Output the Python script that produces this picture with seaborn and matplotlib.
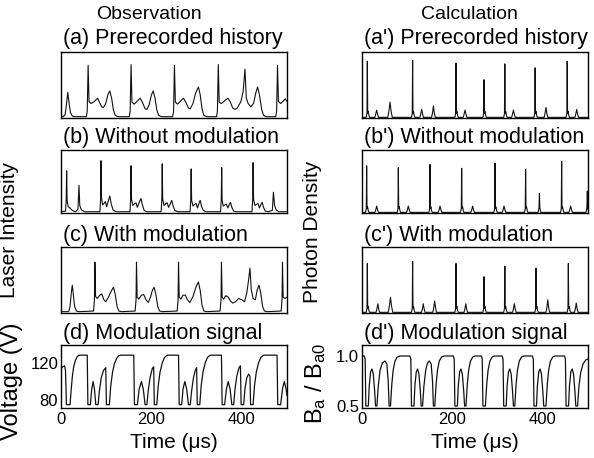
import matplotlib
matplotlib.use("Agg")
import matplotlib.pyplot as plt
import pandas as pd
import seaborn as sns

# ---------------- data (time in microseconds) -------------
# (a) observation: prerecorded history (fraction of panel height)
obs_hist = [(0,0.03),(5,0.02),(9,0.05),(12,0.2),(15,0.39),(18,0.22),(21,0.08),(25,0.03),(30,0.02),
            (56,0.02),(58,0.1),(60,0.80),(62,0.25),(66,0.22),(72,0.24),(78,0.28),(81,0.30),(85,0.24),
            (90,0.17),(94,0.16),(99,0.22),(104,0.36),(108,0.41),(112,0.3),(116,0.12),(120,0.04),(126,0.02),
            (151,0.02),(153,0.1),(155,0.81),(157,0.24),(162,0.21),(168,0.25),(175,0.30),(180,0.24),
            (186,0.14),(190,0.13),(195,0.2),(200,0.35),(204,0.41),(208,0.3),(212,0.12),(216,0.04),(222,0.02),
            (247,0.02),(249,0.1),(251,0.80),(253,0.24),(258,0.21),(265,0.26),(271,0.30),(276,0.24),
            (282,0.15),(286,0.14),(292,0.22),(298,0.38),(304,0.47),(308,0.35),(312,0.14),(316,0.04),(322,0.02),
            (344,0.02),(346,0.1),(348,0.81),(350,0.24),(355,0.22),(362,0.26),(369,0.30),(374,0.25),
            (380,0.15),(385,0.13),(390,0.15),(398,0.25),(403,0.4),(407,0.74),(410,0.3),(414,0.22),
            (420,0.17),(426,0.22),(431,0.38),(435,0.47),(439,0.35),(444,0.13),(448,0.04),(454,0.02),
            (475,0.02),(477,0.1),(479,0.80),(481,0.25),(486,0.22),(492,0.26),(496,0.29),(500,0.25)]

# (b) observation without modulation
obs_free = [(0,0.02),(10,0.03),(11.5,0.2),(12.5,0.67),(13.5,0.2),(16,0.1),(20,0.08),(25,0.04),(32,0.02),
            (37.5,0.06),(39.8,0.44),(41.5,0.12),(45,0.05),(52,0.02),
            (86,0.02),(87.5,0.2),(88.5,0.83),(89.5,0.25),(92,0.13),(96,0.16),(98,0.18),(101,0.1),(105,0.2),
            (108,0.27),(111,0.15),(115,0.05),(122,0.02),
            (152.5,0.02),(154,0.2),(155,0.75),(156,0.22),(159,0.12),(163,0.15),(166,0.16),(169,0.09),
            (173,0.17),(177,0.23),(180,0.13),(184,0.04),(190,0.02),
            (221.5,0.02),(223,0.2),(224,0.78),(225,0.22),(228,0.12),(232,0.15),(235,0.16),(238,0.09),
            (242,0.15),(245,0.2),(248,0.11),(252,0.04),(258,0.02),
            (285.5,0.02),(287,0.2),(288,0.70),(289,0.2),(292,0.11),(296,0.14),(299,0.15),(302,0.08),
            (305,0.15),(308,0.2),(311,0.1),(315,0.04),(321,0.02),
            (353,0.02),(354.5,0.2),(355.5,0.72),(356.5,0.2),(359,0.11),(363,0.13),(366,0.14),(369,0.08),
            (372,0.13),(375,0.17),(378,0.09),(382,0.03),(388,0.02),
            (422.5,0.02),(424,0.2),(425,0.80),(426,0.22),(429,0.12),(433,0.14),(436,0.15),(439,0.08),
            (442,0.13),(445,0.17),(448,0.09),(452,0.03),(458,0.02),
            (467.5,0.04),(470,0.33),(472.5,0.12),(476,0.05),(482,0.02),(500,0.02)]

# (c) observation with modulation
obs_mod = [(0,0.02),(17,0.02),(20,0.1),(23,0.32),(25,0.42),(27,0.3),(30,0.1),(34,0.03),(40,0.02),
           (72,0.03),(74,0.2),(75,0.77),(76.5,0.25),(80,0.22),(86,0.27),(90,0.29),(95,0.2),(99,0.17),
           (105,0.24),(111,0.33),(116,0.39),(120,0.28),(124,0.1),(128,0.03),(134,0.02),
           (164,0.03),(166,0.2),(167,0.77),(168.5,0.24),(172,0.21),(178,0.27),(183,0.28),(188,0.2),
           (193,0.16),(198,0.24),(202,0.34),(206,0.39),(210,0.28),(214,0.1),(218,0.03),(224,0.02),
           (257,0.03),(259,0.2),(260,0.77),(261.5,0.24),(265,0.21),(270,0.27),(275,0.27),(280,0.2),
           (285,0.16),(292,0.25),(299,0.4),(304,0.47),(308,0.34),(312,0.12),(316,0.03),(322,0.02),
           (352,0.03),(354,0.2),(355,0.77),(356.5,0.24),(360,0.21),(364,0.26),(369,0.25),(375,0.18),
           (380,0.15),(386,0.17),(393,0.22),(400,0.2),(406,0.17),(411,0.3),(415,0.5),(418,0.68),
           (421,0.35),(425,0.22),(430,0.2),(434,0.35),(438,0.42),(442,0.3),(446,0.1),(450,0.03),(456,0.02),
           (487,0.03),(489,0.2),(490,0.77),(491.5,0.24),(495,0.22),(500,0.24)]

# (d) observation modulation signal (V)
obs_volt = [(0,114),(4,116),(8,117),(10,112),(12,75),(20,75),(22,88),(25,105),(28,116),(32,123),(36,127),
            (40,128.5),(58,128.5),(59.5,75),(65,75),(68,92),(71,100),(74,92),(77,75),(82,75),(85,90),
            (89,104),(94,112),(99,115),(100.5,75),(107,75),(110,95),(114,110),(118,119),(123,125),
            (128,128),(133,128.5),(161,128.5),(162.5,75),(169,75),(173,92),(178,100),(182,92),(186,75),
            (190,75),(193,90),(197,104),(202,114),(205,116),(206.5,75),(212,75),(215,95),(219,110),
            (224,120),(229,126),(235,128.5),(260,128.5),(261.5,75),(267,75),(270,92),(274,100),(278,92),
            (282,75),(286,75),(289,90),(293,104),(297,112),(300,115),(301.5,75),(307,75),(310,95),
            (314,110),(319,120),(324,126),(330,128.5),(355,128.5),(356.5,75),(362,75),(366,92),(370,100),
            (374,92),(378,75),(382,75),(385,92),(389,106),(394,115),(397,117),(398.5,75),(404,75),
            (407,92),(411,104),(415,108),(418,106),(419.5,75),(425,75),(428,95),(432,110),(437,120),
            (442,126),(448,128.5),(478,128.5),(479.5,75),(486,75),(490,92),(494,100),(498,92),(500,85)]

# (a') calculation: prerecorded history
calc_hist = [(0,0.01),(9.3,0.01),(11,0.07),(11.8,0.86),(12.6,0.07),(13.8,0.1),(15.3,0.04),(16.8,0.01),
             (28.4,0.01),(30.4,0.06),(32.4,0.12),(34.4,0.06),(36.4,0.01),
             (57,0.01),(59.5,0.1),(62,0.24),(64.5,0.1),(67,0.01),
             (109.5,0.01),(111.2,0.07),(112,0.87),(112.8,0.07),(114,0.1),(115.5,0.04),(117,0.01),
             (128,0.01),(130,0.06),(132,0.13),(134,0.06),(136,0.01),
             (154,0.01),(156,0.08),(158,0.18),(160,0.08),(162,0.01),
             (205.5,0.01),(207.2,0.07),(208,0.83),(208.8,0.07),(210,0.1),(211.5,0.04),(213,0.01),
             (224,0.01),(226,0.06),(228,0.12),(230,0.06),(232,0.01),
             (267.5,0.01),(269.2,0.07),(270,0.58),(270.8,0.07),(272,0.1),(273.5,0.04),(275,0.01),
             (313.5,0.01),(315.2,0.07),(316,0.82),(316.8,0.07),(318,0.1),(319.5,0.04),(321,0.01),
             (331,0.01),(333,0.06),(335,0.12),(337,0.06),(339,0.01),
             (380.5,0.01),(382.2,0.07),(383,0.76),(383.8,0.07),(385,0.1),(386.5,0.04),(388,0.01),
             (403,0.01),(405,0.07),(407,0.16),(409,0.07),(411,0.01),
             (451.5,0.01),(453.2,0.07),(454,0.86),(454.8,0.07),(456,0.1),(457.5,0.04),(459,0.01),
             (471,0.01),(473,0.06),(475,0.13),(477,0.06),(479,0.01),(500,0.01)]

# (b') calculation without modulation
calc_free = [(0,0.01),(7.8,0.01),(9.5,0.07),(10.3,0.75),(11.1,0.07),(12.3,0.1),(13.8,0.04),(15.3,0.01),
             (28.5,0.01),(30.5,0.05),(32.5,0.11),(34.5,0.05),(36.5,0.01),
             (77.9,0.01),(79.6,0.07),(80.4,0.72),(81.2,0.07),(82.4,0.1),(83.9,0.04),(85.4,0.01),
             (98.5,0.01),(100.5,0.05),(102.5,0.11),(104.5,0.05),(106.5,0.01),
             (147.9,0.01),(149.6,0.07),(150.4,0.77),(151.2,0.07),(152.4,0.1),(153.9,0.04),(155.4,0.01),
             (168.6,0.01),(170.6,0.05),(172.6,0.11),(174.6,0.05),(176.6,0.01),
             (218,0.01),(219.7,0.07),(220.5,0.71),(221.3,0.07),(222.5,0.1),(224,0.04),(225.5,0.01),
             (240.8,0.01),(242.8,0.05),(244.8,0.11),(246.8,0.05),(248.8,0.01),
             (291.7,0.01),(293.4,0.07),(294.2,0.79),(295,0.07),(296.2,0.1),(297.7,0.04),(299.2,0.01),
             (310.2,0.01),(312.2,0.05),(314.2,0.11),(316.2,0.05),(318.2,0.01),
             (359.5,0.01),(361.2,0.07),(362,0.69),(362.8,0.07),(364,0.1),(365.5,0.04),(367,0.01),
             (389.5,0.01),(391.5,0.08),(392.5,0.31),(393.5,0.08),(395.5,0.01),
             (439.2,0.01),(440.9,0.07),(441.7,0.82),(442.5,0.07),(443.7,0.1),(445.2,0.04),(446.7,0.01),
             (457.6,0.01),(459.6,0.05),(461.6,0.11),(463.6,0.05),(465.6,0.01),
             (495.5,0.01),(497.5,0.08),(498.5,0.35),(499.5,0.08),(500,0.05)]

# (c') calculation with modulation
calc_mod = [(0,0.01),(9.3,0.01),(11,0.07),(11.8,0.75),(12.6,0.07),(13.8,0.1),(15.3,0.04),(16.8,0.01),
            (31,0.01),(33,0.06),(35,0.14),(37,0.06),(39,0.01),
            (58,0.01),(60.5,0.1),(63,0.24),(65.5,0.1),(68,0.01),
            (109.5,0.01),(111.2,0.07),(112,0.78),(112.8,0.07),(114,0.1),(115.5,0.04),(117,0.01),
            (131.5,0.01),(133.5,0.06),(135.5,0.14),(137.5,0.06),(139.5,0.01),
            (156.7,0.01),(158.7,0.08),(160.7,0.18),(162.7,0.08),(164.7,0.01),
            (205.5,0.01),(207.2,0.07),(208,0.75),(208.8,0.07),(210,0.1),(211.5,0.04),(213,0.01),
            (225.6,0.01),(227.6,0.06),(229.6,0.14),(231.6,0.06),(233.6,0.01),
            (267.5,0.01),(269.2,0.07),(270,0.55),(270.8,0.07),(272,0.1),(273.5,0.04),(275,0.01),
            (313.5,0.01),(315.2,0.07),(316,0.71),(316.8,0.07),(318,0.1),(319.5,0.04),(321,0.01),
            (333,0.01),(335,0.06),(337,0.14),(339,0.06),(341,0.01),
            (382.5,0.01),(384.2,0.07),(385,0.68),(385.8,0.07),(387,0.1),(388.5,0.04),(390,0.01),
            (407,0.01),(409,0.08),(411,0.2),(413,0.08),(415,0.01),
            (454,0.01),(455.7,0.07),(456.5,0.75),(457.3,0.07),(458.5,0.1),(460,0.04),(461.5,0.01),
            (470,0.01),(472,0.06),(474,0.15),(476,0.06),(478,0.01),(500,0.01)]

# (d') calculation modulation signal (B_a / B_a0)
calc_field = [(0,1.0),(5,1.0),(7,0.97),(8.5,0.5),(14,0.5),(16,0.7),(19,0.84),(22,0.87),(25,0.82),(28,0.65),
              (30,0.5),(33,0.5),(36,0.7),(40,0.86),(45,0.93),(51,0.95),(55,0.92),(58,0.75),(60,0.5),
              (63,0.5),(66,0.72),(69,0.86),(73,0.95),(78,0.99),(84,1.0),
              (106,1.0),(108,0.97),(109.5,0.5),(115,0.5),(117,0.7),(120,0.84),(123,0.87),(126,0.82),
              (129,0.65),(131,0.5),(134,0.5),(137,0.7),(141,0.86),(145,0.93),(149,0.95),(153,0.92),
              (156,0.75),(158,0.5),(161,0.5),(164,0.72),(167,0.86),(171,0.95),(176,0.99),(182,1.0),
              (202,1.0),(204,0.97),(205.5,0.5),(211,0.5),(213,0.7),(216,0.84),(219,0.87),(222,0.82),
              (225,0.65),(227,0.5),(230,0.5),(233,0.72),(236,0.86),(240,0.95),(245,0.99),(250,1.0),
              (264,1.0),(266,0.97),(267.5,0.5),(273,0.5),(276,0.72),(279,0.86),(283,0.95),(288,0.99),
              (293,1.0),(310,1.0),(312,0.97),(313.5,0.5),(319,0.5),(321,0.7),(324,0.84),(327,0.87),
              (330,0.82),(333,0.65),(335,0.5),(338,0.5),(341,0.72),(344,0.86),(348,0.95),(353,0.99),
              (358,1.0),(377,1.0),(379,0.97),(380.5,0.5),(386,0.5),(388,0.7),(391,0.84),(394,0.87),
              (397,0.82),(400,0.65),(402,0.5),(407,0.5),(410,0.72),(413,0.86),(417,0.95),(422,0.99),
              (427,1.0),(448,1.0),(450,0.97),(451.5,0.5),(457,0.5),(459,0.7),(462,0.84),(465,0.87),
              (468,0.82),(471,0.65),(473,0.5),(477,0.5),(480,0.7),(484,0.84),(489,0.92),(495,0.96),
              (500,0.97)]

col_titles = ["Observation", "Calculation"]
left_titles = ["(a) Prerecorded history", "(b) Without modulation", "(c) With modulation", "(d) Modulation signal"]
right_titles = ["(a') Prerecorded history", "(b') Without modulation", "(c') With modulation", "(d') Modulation signal"]
volt_ticks = [80, 120]
field_ticks = [0.5, 1.0]
time_ticks = [0, 200, 400]

# ---------------- style ----------------
sns.set_theme(style="white")
plt.rcParams["font.family"] = ["Liberation Sans", "DejaVu Sans"]
plt.rcParams["mathtext.fontset"] = "custom"
plt.rcParams["mathtext.rm"] = "Liberation Sans"
plt.rcParams["mathtext.it"] = "Liberation Sans:italic"
plt.rcParams["text.color"] = "black"
plt.rcParams["axes.labelcolor"] = "black"
plt.rcParams["xtick.color"] = "black"
plt.rcParams["ytick.color"] = "black"

W, H = 594, 458
fig = plt.figure(figsize=(W / 100, H / 100), dpi=100)

def px_axes(x0, x1, y0, y1):
    return fig.add_axes([x0 / W, 1 - y1 / H, (x1 - x0) / W, (y1 - y0) / H])

rows = [(52, 118), (150, 213), (247, 313), (345, 408)]
cols = [(61, 287), (362, 588)]
series = [[obs_hist, obs_free, obs_mod, obs_volt], [calc_hist, calc_free, calc_mod, calc_field]]
titles = [left_titles, right_titles]
baselines = [44, 143, 241, 339]

for ci, (x0, x1) in enumerate(cols):
    for ri, (y0, y1) in enumerate(rows):
        ax = px_axes(x0, x1, y0, y1)
        df = pd.DataFrame(series[ci][ri], columns=["t", "v"])
        lw = 0.8 if ri < 3 else 0.9
        sns.lineplot(data=df, x="t", y="v", ax=ax, color="#111111", linewidth=lw,
                     estimator=None, sort=False)
        ax.set_xlim(0, 500)
        ax.set_xlabel("")
        ax.set_ylabel("")
        for s in ax.spines.values():
            s.set_color("black")
            s.set_linewidth(1.0)
        if ri < 3:
            ax.set_ylim(0, 1)
            ax.set_xticks([])
            ax.set_yticks([])
        else:
            ax.set_xticks(time_ticks)
            ax.set_xticklabels([str(v) for v in time_ticks])
            if ci == 0:
                ax.set_ylim(71.4, 139.5)
                ax.set_yticks(volt_ticks)
                ax.set_yticklabels([str(v) for v in volt_ticks])
            else:
                ax.set_ylim(0.48, 1.11)
                ax.set_yticks(field_ticks)
                ax.set_yticklabels(["%.1f" % v for v in field_ticks])
            ax.tick_params(axis="both", direction="in", length=3, width=0.8,
                           labelsize=12, pad=2, colors="black")
            ax.tick_params(axis="x", pad=3)
        fig.text((x0 + 2) / W, 1 - baselines[ri] / H, titles[ci][ri], fontsize=15.5,
                 ha="left", va="baseline", color="black")

fig.text(149 / W, 1 - 19 / H, col_titles[0], fontsize=14, ha="center", va="baseline", color="black")
fig.text(469 / W, 1 - 19 / H, col_titles[1], fontsize=14, ha="center", va="baseline", color="black")

fig.text(10 / W, 1 - 230 / H, "Laser Intensity", rotation=90, fontsize=15, ha="center", va="center",
         color="black")
fig.text(312 / W, 1 - 232 / H, "Photon Density", rotation=90, fontsize=15, ha="center", va="center",
         color="black")
fig.text(12 / W, 1 - 381 / H, "Voltage (V)", rotation=90, fontsize=17, ha="center", va="center",
         color="black")
fig.text(316 / W, 1 - 383 / H, r"$\mathrm{B_a\ /\ B_{a0}}$", rotation=90, fontsize=17,
         ha="center", va="center", color="black")
fig.text(174 / W, 1 - 442 / H, "Time (\u03bcs)", fontsize=15, ha="center", va="center", color="black")
fig.text(475 / W, 1 - 442 / H, "Time (\u03bcs)", fontsize=15, ha="center", va="center", color="black")

fig.savefig("out.png", dpi=100)
